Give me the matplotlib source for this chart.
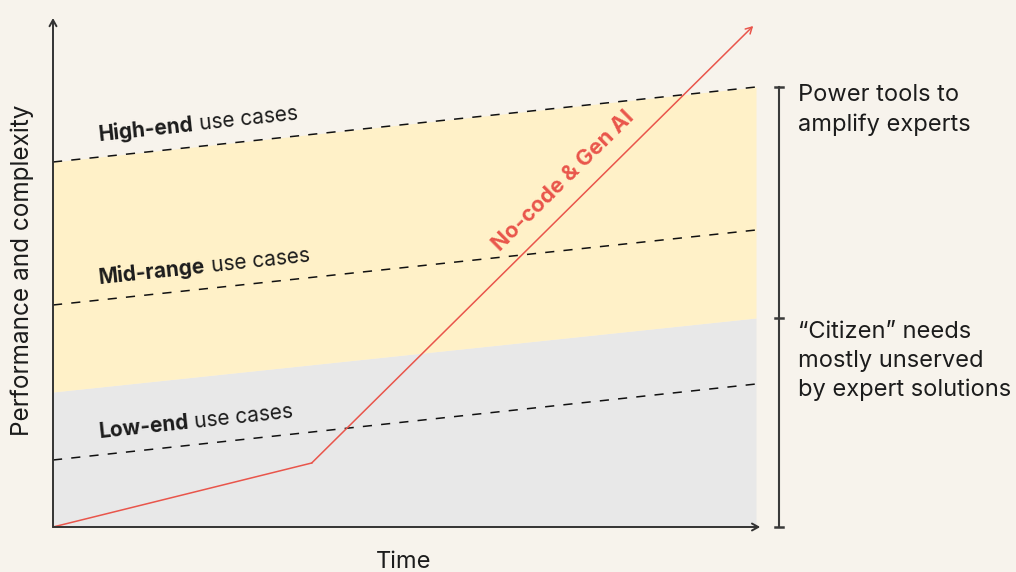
import numpy as np
import matplotlib
matplotlib.use("Agg")
import matplotlib.pyplot as plt

plt.rcParams["font.family"] = ["Inter", "DejaVu Sans"]

# Conceptual chart: performance/complexity of use cases over time
time = [0, 100]
high_end = [73, 88]
mid_range = [44.4, 59.4]
low_end = [13.4, 28.6]
citizen_top = [27, 41.8]

nocode_time = [0, 36.8, 99.6]
nocode_perf = [0, 12.8, 100.2]

band_labels = [("High-end", " use cases"), ("Mid-range", " use cases"), ("Low-end", " use cases")]
right_labels = ["Power tools to\namplify experts", "\u201cCitizen\u201d needs\nmostly unserved\nby expert solutions"]
series_label = "No-code & Gen AI"
x_label = "Time"
y_label = "Performance and complexity"

BG = "#f7f3ec"
YELLOW = "#fff1c8"
GRAY = "#e8e8e8"
RED = "#e9554b"
INK = "#1c1c1c"
AXIS = "#333333"

W, H = 1016, 572
fig = plt.figure(figsize=(W / 100, H / 100), dpi=100)
fig.patch.set_facecolor(BG)
ax = fig.add_axes([53 / W, 45 / H, 703 / W, 500 / H])
ax.set_xlim(0, 100)
ax.set_ylim(0, 100)
ax.set_facecolor(BG)
ax.axis("off")

# Bands
ax.fill_between(time, 0, citizen_top, color=GRAY, lw=0, zorder=1)
ax.fill_between(time, citizen_top, high_end, color=YELLOW, lw=0, zorder=1)

# Dashed threshold lines
for vals in (high_end, mid_range, low_end):
    ax.plot(time, vals, color="#111111", lw=1.1, ls=(0, (6, 6)), zorder=2)

# Axes arrows
arrow = dict(arrowstyle="->,head_length=0.45,head_width=0.25", color=AXIS, lw=1.4,
             shrinkA=0, shrinkB=0)
ax.annotate("", xy=(0, 101.8), xytext=(0, 0), arrowprops=arrow, annotation_clip=False, zorder=4)
ax.annotate("", xy=(100.6, 0), xytext=(0, 0), arrowprops=arrow, annotation_clip=False, zorder=4)

# No-code & Gen AI trajectory
ax.plot(nocode_time[:2], nocode_perf[:2], color=RED, lw=1.1, zorder=3, clip_on=False)
ax.annotate("", xy=(nocode_time[2], nocode_perf[2]), xytext=(nocode_time[1], nocode_perf[1]),
            arrowprops=dict(arrowstyle="->,head_length=0.45,head_width=0.25", color=RED,
                            lw=1.1, shrinkA=0, shrinkB=0),
            annotation_clip=False, zorder=3)

fig.canvas.draw()
renderer = fig.canvas.get_renderer()


def display_angle(x0, y0, x1, y1):
    p0 = ax.transData.transform((x0, y0))
    p1 = ax.transData.transform((x1, y1))
    return np.degrees(np.arctan2(p1[1] - p0[1], p1[0] - p0[0]))


def text_width(s, **kw):
    t = fig.text(0, 0, s, **kw)
    w = t.get_window_extent(renderer).width
    t.remove()
    return w


band_angle = display_angle(time[0], high_end[0], time[1], high_end[1])
label_size = 15
space_w = text_width("x x", size=label_size) - text_width("xx", size=label_size)
label_x = 6.6
for (bold, rest), vals in zip(band_labels, (high_end, mid_range, low_end)):
    y = np.interp(label_x, time, vals) + 3.3
    ax.text(label_x, y, bold, weight="bold", size=label_size, color=INK, rotation=band_angle,
            rotation_mode="anchor", ha="left", va="baseline", zorder=5)
    w = text_width(bold, weight="bold", size=label_size) + space_w
    p0 = ax.transData.transform((label_x, y))
    a = np.radians(band_angle)
    p1 = p0 + w * np.array([np.cos(a), np.sin(a)])
    x2, y2 = ax.transData.inverted().transform(p1)
    ax.text(x2, y2, rest.strip(), size=label_size, color=INK, rotation=band_angle,
            rotation_mode="anchor", ha="left", va="baseline", zorder=5)

red_angle = display_angle(nocode_time[1], nocode_perf[1], nocode_time[2], nocode_perf[2])
ax.text(72.6, 69.2, series_label, color=RED, weight="bold", size=15.8, rotation=red_angle,
        rotation_mode="anchor", ha="center", va="center", zorder=5)

# Right-hand bracket
bx = 103.3
tick = 0.6
ax.plot([bx, bx], [0, high_end[1]], color="#3a3a3a", lw=1.5, clip_on=False, zorder=4)
for yv in (0, citizen_top[1], high_end[1]):
    ax.plot([bx - tick, bx + tick], [yv, yv], color="#3a3a3a", lw=1.8, clip_on=False, zorder=4)

ax.text(106.0, high_end[1] + 0.6, right_labels[0], size=17, color=INK, ha="left", va="top",
        linespacing=1.4)
ax.text(106.0, citizen_top[1] - 0.6, right_labels[1], size=17, color=INK, ha="left", va="top",
        linespacing=1.4)

# Axis titles
fig.text(22 / W, 1 - 270 / H, y_label, rotation=90, size=17.5, color=INK, ha="center", va="center")
fig.text(404 / W, 1 - 562 / H, x_label, size=17, color=INK, ha="center", va="center")

fig.savefig("out.png", dpi=100, facecolor=BG)
